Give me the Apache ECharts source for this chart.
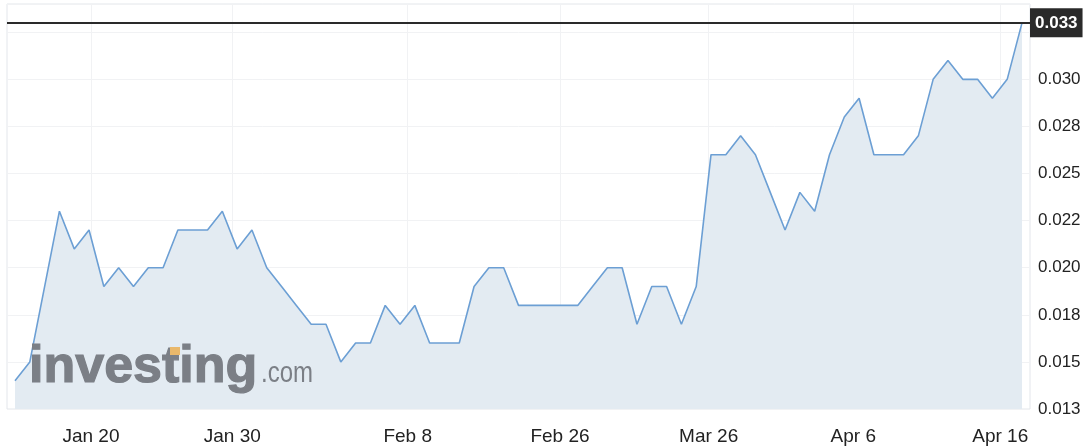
<!DOCTYPE html>
<html>
<head>
<meta charset="utf-8">
<script src="https://cdn.jsdelivr.net/npm/echarts@6/dist/echarts.min.js"></script>
<style>
  html, body { margin: 0; padding: 0; background: #fff; }
  #chart { width: 1088px; height: 446px; }
</style>
</head>
<body>
<div id="chart"></div>
<script>
// Price series (one point per session, evenly spaced)
const prices = [
  0.014, 0.015, 0.019, 0.023, 0.021, 0.022, 0.019, 0.020, 0.019, 0.020,
  0.020, 0.022, 0.022, 0.022, 0.023, 0.021, 0.022, 0.020, 0.019, 0.018,
  0.017, 0.017, 0.015, 0.016, 0.016, 0.018, 0.017, 0.018, 0.016, 0.016,
  0.016, 0.019, 0.020, 0.020, 0.018, 0.018, 0.018, 0.018, 0.018, 0.019,
  0.020, 0.020, 0.017, 0.019, 0.019, 0.017, 0.019, 0.026, 0.026, 0.027,
  0.026, 0.024, 0.022, 0.024, 0.023, 0.026, 0.028, 0.029, 0.026, 0.026,
  0.026, 0.027, 0.030, 0.031, 0.030, 0.030, 0.029, 0.030, 0.033
];
// X tick labels and where they fall along the session index
const tickLabels = ['Jan 20', 'Jan 30', 'Feb 8', 'Feb 26', 'Mar 26', 'Apr 6', 'Apr 16'];
const tickPositions = [5.13, 14.67, 26.52, 36.8, 46.84, 56.61, 66.53];
// Y axis range
const yMin = 0.0125;
const yMax = 0.034;
const yStep = 0.0025;

const seriesData = prices.map((v, i) => [i, v]);
const lastPrice = prices[prices.length - 1];

const chart = echarts.init(document.getElementById('chart'));
const font = "'Liberation Sans', Arial, Helvetica, sans-serif";

chart.setOption({
  animation: false,
  backgroundColor: '#ffffff',
  grid: {
    left: 7, right: 58, top: 4, bottom: 37,
    show: true, borderColor: '#e3e6eb', borderWidth: 1, backgroundColor: 'transparent'
  },
  xAxis: {
    type: 'value',
    min: -0.54,
    max: prices.length - 1 + 0.54,
    axisLine: { show: false },
    axisTick: { show: false, customValues: tickPositions },
    splitLine: { show: true, lineStyle: { color: '#f1f2f4', width: 1 } },
    axisLabel: {
      customValues: tickPositions,
      color: '#222',
      fontSize: 19,
      fontFamily: font,
      margin: 18,
      formatter: function (v) {
        let best = 0, d = Infinity;
        tickPositions.forEach((p, k) => { if (Math.abs(p - v) < d) { d = Math.abs(p - v); best = k; } });
        return tickLabels[best];
      }
    }
  },
  yAxis: {
    type: 'value',
    position: 'right',
    min: yMin,
    max: yMax,
    interval: yStep,
    axisLine: { show: false },
    axisTick: { show: false },
    splitLine: { show: true, lineStyle: { color: '#f1f2f4', width: 1 } },
    axisLabel: {
      color: '#222',
      fontSize: 17,
      fontFamily: font,
      margin: 8,
      showMaxLabel: false,
      formatter: function (v) { return v >= lastPrice - 0.0006 ? '' : v.toFixed(3); }
    }
  },
  graphic: [
    {
      type: 'text', z: 10, silent: true,
      x: 29, y: 368,
      style: {
        text: 'investing', fill: '#7b7f86',
        font: "bold 52px 'Liberation Sans', Arial, sans-serif",
        stroke: '#7b7f86', lineWidth: 1.2,
        verticalAlign: 'middle', align: 'left'
      }
    },
    {
      type: 'rect', z: 11, silent: true,
      shape: { x: 170, y: 347, width: 10, height: 8 },
      style: { fill: '#e9b86b' }
    },
    {
      type: 'group', x: 261, y: 374, scaleX: 0.8, z: 10,
      children: [{
        type: 'text', z: 10, silent: true, x: 0, y: 0,
        style: {
          text: '.com', fill: '#7b7f86',
          font: "30px 'Liberation Sans', Arial, sans-serif",
          verticalAlign: 'middle', align: 'left'
        }
      }]
    }
  ],
  series: [{
    type: 'line',
    data: seriesData,
    showSymbol: false,
    smooth: false,
    lineStyle: { color: '#6c9fd4', width: 1.6 },
    areaStyle: { color: '#e3ebf2', opacity: 1 },
    markLine: {
      silent: true,
      precision: 4,
      symbol: ['none', 'none'],
      lineStyle: { color: '#2a2a2a', width: 2, type: 'solid' },
      label: {
        position: 'end',
        distance: 0,
        formatter: function () { return lastPrice.toFixed(3); },
        color: '#ffffff',
        fontWeight: 'bold',
        fontSize: 17,
        fontFamily: font,
        backgroundColor: '#2a2a2a',
        padding: [7, 5, 5, 5]
      },
      data: [{ yAxis: lastPrice }]
    }
  }]
});
</script>
</body>
</html>
